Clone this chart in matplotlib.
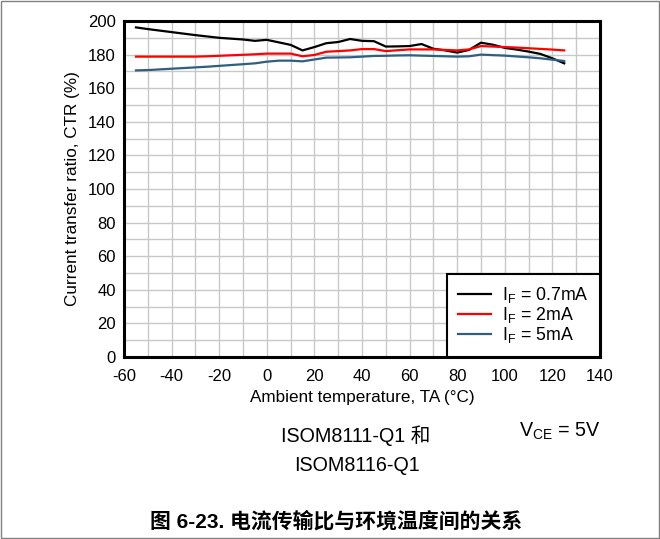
import matplotlib.pyplot as plt
from matplotlib.patches import Rectangle
from matplotlib.ticker import MultipleLocator

# temperature (°C) and CTR (%)
temp = [-55, -50, -45, -40, -35, -30, -25, -20, -15, -10, -5, 0, 5, 10, 15, 20,
        25, 30, 35, 40, 45, 50, 55, 60, 65, 70, 75, 80, 85, 90, 95, 100, 105,
        110, 115, 120, 125]
ctr_07 = [196.2, 195.2, 194.3, 193.4, 192.5, 191.6, 190.8, 190.0, 189.5, 189.0,
          188.2, 188.8, 187.3, 185.8, 182.5, 184.5, 186.8, 187.5, 189.3, 188.2,
          188.0, 184.8, 184.9, 185.1, 186.3, 183.5, 182.5, 181.2, 182.8, 187.1,
          185.9, 184.0, 183.0, 181.8, 180.4, 177.8, 174.8]
ctr_2 = [178.8, 178.8, 178.8, 178.8, 178.8, 178.8, 179.0, 179.3, 179.6, 179.9,
         180.2, 180.6, 180.6, 180.6, 179.0, 179.8, 181.7, 182.1, 182.5, 183.3,
         183.3, 182.1, 182.6, 183.1, 183.1, 183.1, 182.8, 182.5, 183.1, 185.1,
         184.8, 184.5, 184.2, 183.8, 183.4, 183.0, 182.5]
ctr_5 = [170.6, 170.8, 171.2, 171.6, 172.0, 172.4, 172.8, 173.3, 173.8, 174.3,
         174.8, 175.8, 176.4, 176.4, 176.0, 177.1, 178.2, 178.3, 178.4, 178.8,
         179.2, 179.3, 179.5, 179.6, 179.4, 179.2, 179.0, 178.8, 179.0, 180.0,
         179.7, 179.4, 178.9, 178.4, 177.8, 177.0, 176.2]
labels = ['I$_\\mathregular{F}$ = 0.7mA', 'I$_\\mathregular{F}$ = 2mA',
          'I$_\\mathregular{F}$ = 5mA']
colors = ['black', '#ff0000', '#2f5f7f']

plt.rcParams['font.family'] = ['Liberation Sans', 'Noto Sans CJK SC']
plt.rcParams['axes.unicode_minus'] = False

fig = plt.figure(figsize=(6.6, 5.39), dpi=100)
ax = fig.add_axes([0.188, 0.3377, 0.721, 0.6233])

for y, lab, c in zip([ctr_07, ctr_2, ctr_5], labels, colors):
    ax.plot(temp, y, color=c, lw=1.6, label=lab)

ax.set_xlim(-60, 140)
ax.set_ylim(0, 200)
ax.xaxis.set_major_locator(MultipleLocator(20))
ax.yaxis.set_major_locator(MultipleLocator(20))
ax.xaxis.set_minor_locator(MultipleLocator(10))
ax.yaxis.set_minor_locator(MultipleLocator(10))
ax.grid(True, which='both', color='#c8c8c8', lw=1)
ax.set_axisbelow(True)
ax.tick_params(which='both', length=0, labelsize=12)
ax.tick_params(axis='x', pad=9)
ax.tick_params(axis='y', pad=6)
for s in ax.spines.values():
    s.set_linewidth(2.2)

ax.set_xlabel('Ambient temperature, TA (°C)', fontsize=12.3, labelpad=4)
ax.set_ylabel('Current transfer ratio, CTR (%)', fontsize=12.3, labelpad=6)

leg = ax.legend(loc='lower right', fontsize=12.8, fancybox=False,
                framealpha=1, edgecolor='black', borderaxespad=0,
                handlelength=1.85, handletextpad=0.6, borderpad=0.65,
                labelspacing=0.0)
leg.get_frame().set_linewidth(1.5)

fig.text(0.539, 0.191, 'ISOM8111-Q1 和', ha='center', va='center', fontsize=14.2)
fig.text(0.541, 0.137, 'ISOM8116-Q1', ha='center', va='center', fontsize=14.2)
fig.text(0.848, 0.199, 'V$_\\mathregular{CE}$ = 5V', ha='center', va='center',
         fontsize=14.2)
fig.text(0.509, 0.033, '图 6-23. 电流传输比与环境温度间的关系', ha='center',
         va='center', fontsize=15, fontweight='bold')

fig.patches.append(Rectangle((0.002, 0.002), 0.996, 0.996, transform=fig.transFigure,
                             fill=False, edgecolor='#808080', lw=1))

fig.savefig('out.png', dpi=100)
